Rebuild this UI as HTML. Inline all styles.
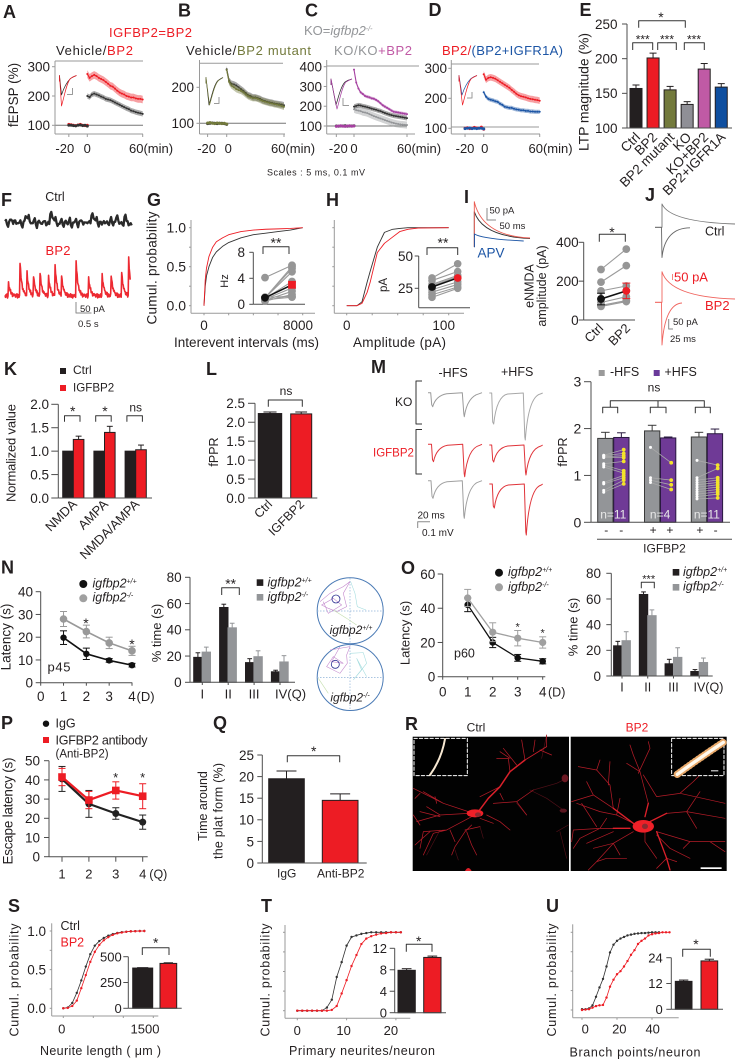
<!DOCTYPE html>
<html lang="en">
<head>
<meta charset="utf-8">
<title>IGFBP2 multi-panel figure</title>
<style>
html,body{margin:0;padding:0;background:#fff;}
svg{display:block;font-family:"Liberation Sans",Arial,sans-serif;filter:blur(.25px);}
text{fill:#231f20;}
.pl{font-size:18px;font-weight:bold;}
</style>
</head>
<body>
<svg id="fig" width="737" height="1061" viewBox="0 0 737 1061" xmlns="http://www.w3.org/2000/svg">
<rect x="0" y="0" width="737" height="1061" fill="#fff"/>

<g>
<text class="pl" x="3" y="18">A</text>
<text class="pl" x="178" y="16.5">B</text>
<text class="pl" x="305" y="16.5">C</text>
<text class="pl" x="428.5" y="16">D</text>
<text class="pl" x="579.5" y="16">E</text>
<text class="pl" x="1" y="206">F</text>
<text class="pl" x="147" y="206">G</text>
<text class="pl" x="326" y="206">H</text>
<text class="pl" x="464" y="203">I</text>
<text class="pl" x="645" y="201">J</text>
<text class="pl" x="4" y="375">K</text>
<text class="pl" x="206" y="375">L</text>
<text class="pl" x="371" y="373">M</text>
<text class="pl" x="1" y="573.5">N</text>
<text class="pl" x="401" y="574">O</text>
<text class="pl" x="1" y="729">P</text>
<text class="pl" x="213" y="729">Q</text>
<text class="pl" x="405" y="730">R</text>
<text class="pl" x="8" y="912">S</text>
<text class="pl" x="261" y="912">T</text>
<text class="pl" x="546" y="912">U</text>
</g>

<g>
<text x="109" y="37" font-size="13" textLength="83" style="fill:#ed1c24">IGFBP2=BP2</text>
<text x="56" y="55" font-size="13" textLength="77">Vehicle/<tspan style="fill:#ed1c24">BP2</tspan></text>
<text x="186" y="55" font-size="13" textLength="125">Vehicle/<tspan style="fill:#737a3c">BP2 mutant</tspan></text>
<text x="304" y="35" font-size="13" style="fill:#939598">KO=<tspan font-style="italic" style="fill:#939598">igfbp2</tspan><tspan dy="-4" font-size="7" font-style="italic" style="fill:#939598">-/-</tspan></text>
<text x="334" y="55" font-size="13" textLength="78" style="fill:#939598">KO/KO<tspan style="fill:#c05aa5">+BP2</tspan></text>
<text x="442" y="55" font-size="13" textLength="121" style="fill:#ed1c24">BP2/<tspan style="fill:#1c55a5">(BP2+IGFR1A)</tspan></text>
<text transform="translate(18,95) rotate(-90)" text-anchor="middle" font-size="13.5">fEPSP (%)</text>
<text x="267" y="175.5" font-size="9" textLength="98">Scales : 5 ms, 0.1 mV</text>
<text transform="translate(588.5,92) rotate(-90)" text-anchor="middle" font-size="14" textLength="118">LTP magnitude (%)</text>

<text x="55" y="201" text-anchor="middle" font-size="12.5">Ctrl</text>
<text x="58" y="255" text-anchor="middle" font-size="13" textLength="25" style="fill:#ed1c24">BP2</text>
<text x="80" y="312" font-size="9.5">50 pA</text>
<text x="78" y="327" font-size="9.5">0.5 s</text>

<text transform="translate(156.5,268) rotate(-90)" text-anchor="middle" font-size="13.5" textLength="113">Cumul. probability</text>
<text x="174" y="347" font-size="13.5" textLength="145">Interevent intervals (ms)</text>
<text transform="translate(228,281) rotate(-90)" text-anchor="middle" font-size="11">Hz</text>
<text x="353" y="347" font-size="13.5" textLength="93">Amplitude (pA)</text>
<text transform="translate(387,285) rotate(-90)" text-anchor="middle" font-size="11.5">pA</text>

<text x="489.5" y="213.5" font-size="9.5">50 pA</text>
<text x="499.5" y="229" font-size="9.5">50 ms</text>
<text x="477.5" y="257.5" font-size="13.5" style="fill:#1c55a5">APV</text>
<text transform="translate(533.7,286) rotate(-90)" text-anchor="middle" font-size="12.5">eNMDA</text>
<text transform="translate(546,286) rotate(-90)" text-anchor="middle" font-size="12.5">amplitude (pA)</text>
<text x="705" y="235.5" font-size="12.5">Ctrl</text>
<text x="674" y="281.5" font-size="13" style="fill:#ed1c24">50 pA</text>
<text x="705" y="310" font-size="13" style="fill:#ed1c24">BP2</text>
<text x="673" y="325" font-size="9.5">50 pA</text>
<text x="670" y="342" font-size="9.5">25 ms</text>

<text x="73" y="374" font-size="12">Ctrl</text>
<text x="73" y="391.5" font-size="11.6">IGFBP2</text>
<text transform="translate(15.5,453) rotate(-90)" text-anchor="middle" font-size="13" textLength="98">Normalized value</text>
<text transform="translate(218,452) rotate(-90)" text-anchor="middle" font-size="12.5">fPPR</text>

<text x="438.5" y="377" font-size="12.5">-HFS</text>
<text x="501" y="376" font-size="12.5">+HFS</text>
<text x="395" y="406" font-size="12">KO</text>
<text x="373" y="456.5" font-size="11.5" style="fill:#ed1c24">IGFBP2</text>
<text x="417.5" y="518.5" font-size="10">20 ms</text>
<text x="422" y="536" font-size="10">0.1 mV</text>
<text x="610" y="376" font-size="12.5">-HFS</text>
<text x="664.5" y="376" font-size="12.5">+HFS</text>
<text transform="translate(567,452) rotate(-90)" text-anchor="middle" font-size="12.5">fPPR</text>
<text x="654" y="391.5" text-anchor="middle" font-size="12">ns</text>
<text x="664.5" y="552.5" text-anchor="middle" font-size="12">IGFBP2</text>

<text transform="translate(10.5,637) rotate(-90)" text-anchor="middle" font-size="13.5">Latency (s)</text>
<text x="47.5" y="671.5" font-size="13" textLength="23">p45</text>
<text x="92.5" y="587.5" font-size="12.5" font-style="italic">igfbp2<tspan dy="-4" font-size="7">+/+</tspan></text>
<text x="92.5" y="601.5" font-size="12.5" font-style="italic">igfbp2<tspan dy="-4" font-size="7">-/-</tspan></text>
<text transform="translate(161,633) rotate(-90)" text-anchor="middle" font-size="13">% time (s)</text>
<text x="267.5" y="586.5" font-size="12.5" font-style="italic">igfbp2<tspan dy="-4" font-size="7">+/+</tspan></text>
<text x="267.5" y="601" font-size="12.5" font-style="italic">igfbp2<tspan dy="-4" font-size="7">-/-</tspan></text>

<text transform="translate(409.5,633) rotate(-90)" text-anchor="middle" font-size="13">Latency (s)</text>
<text x="454" y="657.5" font-size="12.5">p60</text>
<text x="508" y="576" font-size="12.5" font-style="italic">igfbp2<tspan dy="-4" font-size="7">+/+</tspan></text>
<text x="508" y="591" font-size="12.5" font-style="italic">igfbp2<tspan dy="-4" font-size="7">-/-</tspan></text>
<text transform="translate(577.5,627) rotate(-90)" text-anchor="middle" font-size="13">% time (s)</text>
<text x="683" y="576" font-size="12.5" font-style="italic">igfbp2<tspan dy="-4" font-size="7">+/+</tspan></text>
<text x="683" y="590.5" font-size="12.5" font-style="italic">igfbp2<tspan dy="-4" font-size="7">-/-</tspan></text>

<text x="55.5" y="727.5" font-size="12.5">IgG</text>
<text x="55.5" y="744.5" font-size="12.5" textLength="92">IGFBP2 antibody</text>
<text x="55.5" y="757.5" font-size="11.5">(Anti-BP2)</text>
<text transform="translate(12.5,811) rotate(-90)" text-anchor="middle" font-size="13.5" textLength="107">Escape latency (s)</text>
<text transform="translate(207,806) rotate(-90)" text-anchor="middle" font-size="12.5">Time around</text>
<text transform="translate(222.5,811) rotate(-90)" text-anchor="middle" font-size="12.5" textLength="96">the plat form (%)</text>

<text x="476" y="731.5" text-anchor="middle" font-size="12">Ctrl</text>
<text x="637" y="731.5" text-anchor="middle" font-size="12" style="fill:#ed1c24">BP2</text>

<text transform="translate(18.5,980) rotate(-90)" text-anchor="middle" font-size="12.5" textLength="113">Cumul. probability</text>
<text x="40" y="1055" font-size="12.5" textLength="121">Neurite length ( μm )</text>
<text x="60.5" y="930" font-size="12.5">Ctrl</text>
<text x="60.5" y="946.5" font-size="12.5" style="fill:#ed1c24">BP2</text>
<text transform="translate(269.5,980) rotate(-90)" text-anchor="middle" font-size="12.5" textLength="113">Cumul. probability</text>
<text x="289" y="1055" font-size="12.5" textLength="146">Primary neurites/neuron</text>
<text transform="translate(556,980) rotate(-90)" text-anchor="middle" font-size="12.5" textLength="113">Cumul. probability</text>
<text x="569.5" y="1056.5" font-size="12.5" textLength="131">Branch points/neuron</text>
</g>

<g>
<circle cx="350.2" cy="610.8" r="33" fill="#fff" stroke="#4a7ab5" stroke-width="1"/>
<circle cx="350.2" cy="677.5" r="33" fill="#fff" stroke="#4a7ab5" stroke-width="1"/>
<path d="M317 611H383M350 578V644M317 677.5H383M350 644.5V710.5" stroke="#8fb2d8" stroke-width=".7" stroke-dasharray="1.5 1.5" fill="none"/>
<g transform="translate(0,530) scale(.3333)" fill="none" stroke-width="1.7">
<path d="M960 215L990 190 1030 170 1050 155 1030 190 1040 230 1010 245 985 235 965 225 1000 205 1025 225 985 250 970 215" stroke="#c184cc"/>
<path d="M1052 155L1065 190 1072 230 1098 240" stroke="#a3dcde"/>
<path d="M1000 240L1040 265 1070 285" stroke="#c2ddab"/>
<circle cx="1008" cy="207" r="12" stroke="#2e3192" stroke-width="2.5"/>
<path d="M990 360L1050 350 1040 375 1042 400 1020 430 980 410 1000 380 1030 400 995 395 1020 350" stroke="#c184cc"/>
<path d="M1050 370L1090 368 1100 400 1060 450 1085 420 1070 385 1100 440" stroke="#a3dcde"/>
<path d="M955 445L985 490" stroke="#c2ddab"/>
<circle cx="1006" cy="403" r="12" stroke="#2e3192" stroke-width="2.5"/>
</g>
<text x="351" y="634" text-anchor="middle" font-size="12" font-style="italic">igfbp2<tspan dy="-4" font-size="7">+/+</tspan></text>
<text x="350" y="701.5" text-anchor="middle" font-size="12" font-style="italic">igfbp2<tspan dy="-4" font-size="7">-/-</tspan></text>
</g>

<g>
<rect x="412.7" y="736.7" width="156.3" height="134.3" fill="#020202"/>
<rect x="570.7" y="736.7" width="156" height="134.3" fill="#020202"/>
<g transform="translate(400,715) scale(.3333)" fill="none" stroke-linecap="round" stroke-linejoin="round">
<path d="M390 225L440 250 490 285M500 190L470 205 400 225M505 330L470 350M175 435L165 405M500 430L480 350M240 335L250 370M120 345L80 420M380 300L350 265M440 60L425 130" stroke="#6b1620" stroke-width="2" opacity=".75"/>
<path d="M330 170L325 130 290 130M350 150L310 100M375 135L365 75M440 95L440 60M300 215L240 245M280 265L350 260 400 225M350 260L380 300M205 290L130 265 40 220M130 265L70 230M205 295L120 300 50 320M120 300L80 275M215 305L140 345 70 350 60 400M140 345L100 355 70 420M215 330L195 350 165 395 155 420M240 310L280 325M195 345L240 335M60 330L40 300M90 350L45 390M150 345L165 380M200 350L215 390 230 420M330 130L300 110M400 110L405 75M420 105L455 120M310 255L300 235M260 300L300 320 330 345M110 265L105 245M60 235L45 250M120 305L60 290" stroke="#b41c28" stroke-width="2.2"/>
<path d="M235 290L265 250 300 215 330 170 375 135" stroke="#d8202a" stroke-width="4.5"/>
<path d="M375 135L440 95" stroke="#c41e2a" stroke-width="2.8"/>
<ellipse cx="225" cy="295" rx="25" ry="12" fill="#ee2028"/>
<ellipse cx="234" cy="299" rx="9" ry="7" fill="#8c2a30"/>
<path d="M195 468Q205 450 215 468Z" fill="#e2202a"/>
<ellipse cx="495" cy="190" rx="10" ry="12" fill="#6b1822"/>
<ellipse cx="490" cy="287" rx="11" ry="6" fill="#5a1620"/>
<path d="M745 265L720 170 700 120M715 175L750 100M770 245L840 235 975 265M770 245L730 180M640 280L580 240 515 260M640 280L630 210 590 165 535 155M625 210L630 140M580 240L560 200M690 340L600 340 520 345M600 340L540 370M640 350L560 385M700 350L640 385 590 440 565 465M640 385L580 400M800 295L860 290 975 310M860 290L900 230M770 350L870 380 975 380M735 350L735 380 770 430M770 360L810 400 870 430M545 265L590 335M700 325L650 300 600 290 530 265M800 430L830 440M590 165L600 135M650 300L660 250M700 120L690 90M720 170L680 145M750 100L745 80M840 235L880 200 900 180M860 290L890 340M870 380L850 400M930 380L975 410M800 430L770 460M640 385L660 420M590 440L620 430 680 430M540 370L520 400M520 345L515 380M600 340L620 310" stroke="#b41c28" stroke-width="2.2"/>
<path d="M735 305L745 265M750 320L800 295M770 350L800 430 810 465M700 325L640 280M690 340L640 340" stroke="#dc202a" stroke-width="4"/>
<ellipse cx="730" cy="334" rx="32" ry="19" fill="#ee2028"/>
<ellipse cx="735" cy="334" rx="9" ry="8" fill="#8c2a30"/>
<rect x="42" y="70" width="160" height="112" fill="#000" stroke="#fff" stroke-width="3" stroke-dasharray="10 6"/>
<path d="M135 72C128 112 115 145 90 180" stroke="#f7e8d2" stroke-width="6"/>
<rect x="815" y="70" width="157" height="112" fill="#000" stroke="#fff" stroke-width="3" stroke-dasharray="10 6"/>
<path d="M832 178C870 150 920 115 970 82" stroke="#e9a96a" stroke-width="22" stroke-dasharray="2 9"/>
<path d="M832 178C870 150 920 115 970 82" stroke="#fff9ee" stroke-width="10"/>
<rect x="933" y="166" width="22" height="3" fill="#fff"/>
<rect x="902" y="457" width="63" height="5" fill="#fff"/>
</g>
</g>

<g id="charts"></g>
</svg>

<script>
// ---------- panel data ----------
const ltpMinutes = [0,2.5,5,7.5,10,12.5,15,17.5,20,22.5,25,27.5,30,32.5,35,37.5,40,42.5,45,47.5,50,52.5,55,57.5,60];
const baseMinutes = [-20,-17.5,-15,-12.5,-10,-7.5,-5,-2.5,0];
const aRed = [275,262,268,272,268,262,258,254,248,242,235,232,225,218,212,208,205,200,198,195,195,192,190,190,188];
const aBlack = [200,196,205,208,205,202,198,195,190,188,186,182,178,174,170,166,162,158,155,150,148,145,143,141,139];
const aBaseRed = [103,102,100,99,101,103,100,99,100];
const aBaseBlack = [100,100,99,98,100,101,99,100,97];
const bOlive = [248,215,205,200,195,192,190,186,180,175,172,170,170,168,165,162,160,158,156,155,153,152,150,148,146];
const bBlack = [250,218,210,208,205,200,195,190,184,178,176,172,172,170,168,164,162,160,158,157,155,154,153,152,150];
const bBaseOlive = [101,102,100,99,101,100,99,100,98];
const bBaseBlack = [99,100,101,100,99,100,100,99,97];
const cPurple = [385,320,290,270,262,252,248,245,240,238,232,225,215,205,198,192,185,178,172,170,168,166,164,162,160];
const cBlack = [198,202,205,204,200,198,195,192,188,185,182,178,175,170,166,162,158,155,152,150,148,146,144,142,140];
const cGray = [185,180,178,175,170,168,165,160,155,150,146,142,138,134,130,126,122,118,115,112,110,108,107,106,105];
const cBasePurple = [98,100,101,99,98,100,101,99,100];
const cBaseBlack = [100,99,100,100,101,99,100,100,101];
const dRed = [280,262,268,270,268,265,260,255,250,245,240,235,228,222,215,210,207,205,203,200,198,197,195,194,192];
const dBlue = [220,205,198,195,193,190,188,182,178,172,170,168,168,165,163,162,160,160,158,158,156,156,155,155,155];
const dBaseRed = [100,102,99,100,103,101,100,104,97];
const dBaseBlue = [99,100,101,99,100,99,100,100,98];

const eNames = ['Ctrl','BP2','BP2 mutant','KO','KO+BP2','BP2+IGFR1A'];
const eValues = [157,201,155,134,185,159];
const eErrors = [5,7,5,4,8,5];

const fBlackNoise = [2,-3,1,4,-2,3,-1,0,-4,1,9,6,2,-1,3,-3,1,0,-2,2,-4,1,12,7,3,0,-2,2,-3,1,-1,2,-4,0,2,-2,1,3,-3,0,-1,2,10,6,3,-1,1,-3,2,0,-2,3,-1,1,7,3,-1,-3,8,2,-4,-1];
const fSpikeTimes = [0.11,0.48,0.69,0.9,1.11,1.38,1.6,1.8,2.27,2.66,3.09,3.39,3.72,3.95];
const fSpikeAmps = [59,147,125,103,118,103,133,96,155,96,118,96,118,170];
const fRedNoise = [1,-2,2,-1,3,-3,0,2,-2,1,-1,3,-2,0,2,-3,1,-1,2,0];

const gMs = [0,100,200,400,700,1000,1500,2000,3000,4000,5000,6000,7000,8000];
const gCtrl = [0,.25,.38,.5,.62,.69,.76,.81,.87,.91,.93,.95,.97,1];
const gBp2 = [0,.33,.48,.63,.75,.82,.87,.91,.95,.97,.98,.985,.99,1];
const gPairCtrl = [4.1,1,1,1,.9,.8,.6,.5,1.1,.7];
const gPairBp2 = [6,5.8,5.5,5,3.5,2.5,2,1.5,1.2,1.1];
const gMeans = [1,3];

const hPa = [0,10,15,20,23,30,37,45,52,60,70,100];
const hCtrl = [0,0,.05,.3,.44,.75,.94,.98,.99,1,1,1];
const hBp2 = [0,0,.03,.17,.3,.68,.8,.88,.95,.98,.995,1];
const hPairCtrl = [33,31,28,27,26,24,22,20,18];
const hPairBp2 = [44,38,35,34,33,30,28,26,25];
const hMeans = [26,33];

const iPairCtrl = [260,195,150,110,90,75,70];
const iPairBp2 = [365,280,175,150,120,100,95];
const iMeans = [108,150];
const iMeanErrors = [30,40];
const iNames = ['Ctrl','BP2'];

const kNames = ['NMDA','AMPA','NMDA/AMPA'];
const kCtrl = [1,1,1];
const kBp2 = [1.25,1.4,1.03];
const kBp2Errors = [.07,.13,.1];
const lNames = ['Ctrl','IGFBP2'];
const lValues = [2.23,2.22];
const lErrors = [.04,.05];

const mMinus = [1.79,1.95,1.82];
const mPlus = [1.81,1.80,1.89];
const mMinusErrors = [.13,.12,.1];
const mPlusErrors = [.1,.02,.1];
const mGroupN = ['n=11','n=4','n=11'];
const mSigns = ['-','-','+','+','+','-'];
const mGray1 = [1.43,1.42,1.4,1.38,1.25,1.22,1.18,.85,.82,.68,.64];
const mPurple1 = [1.55,1.47,1.42,1.38,1.3,1.1,1.05,1.0,.95,.9,.82];
const mGray2 = [1.6,.95,.9,.85];
const mPurple2 = [1.27,.9,.8,.7];
const mGray3 = [1.32,.95,.9,.85,.8,.75,.7,.65,.6,.55,.5];
const mPurple3 = [1.22,1.15,.95,.9,.85,.8,.75,.7,.65,.6,.52];

const days = [1,2,3,4];
const quadrants = ['I','II','III','IV'];
const nWt = [19.8,12.7,9.8,7.7];
const nWtErr = [3,2.5,.8,.8];
const nKo = [28,22.5,17.5,14];
const nKoErr = [3.3,2.8,2.5,2];
const nBarWt = [19,57,15,8];
const nBarWtErr = [3.5,2.5,3,1.2];
const nBarKo = [23,41.5,19.5,15.5];
const nBarKoErr = [3.8,3.5,4.5,4.8];
const oWt = [42,20,11,9];
const oWtErr = [4,3,2,1.5];
const oKo = [46,26,22.5,20];
const oKoErr = [5,5.5,4.5,3.3];
const oBarWt = [23.5,63.5,9.5,3.5];
const oBarWtErr = [3.5,2,3.5,1.5];
const oBarKo = [27.5,47,14.5,10.5];
const oBarKoErr = [7,4.5,7.5,3.5];
const pIgg = [40.5,27.5,22.5,18];
const pIggErr = [6.5,7,3,3.7];
const pAnti = [41.5,29.5,34.5,31.5];
const pAntiErr = [4.5,4.5,4.5,6.5];
const qNames = ['IgG','Anti-BP2'];
const qValues = [19.5,14.5];
const qErrors = [1.8,1.5];

const sLength = [0,75,150,225,300,375,450,525,600,675,750,825,900,975,1050,1125,1200,1275,1350];
const sCtrl = [0,.01,.07,.2,.36,.54,.7,.81,.87,.91,.94,.96,.975,.985,.99,.995,.998,1,1];
const sBp2 = [0,.005,.03,.1,.26,.43,.6,.73,.82,.88,.92,.95,.97,.98,.99,.995,.997,.999,1];
const sInset = [390,435];
const sInsetErr = [4,6];
const tCount = [0,1,2,3,4,5,6,7,8,9,10,11,12,13,14,15,16,17,18,19,20,21];
const tCtrl = [0,0,0,0,0,0,.04,.14,.43,.62,.83,.94,.96,.98,.99,1,1,1,1,1,1,1];
const tBp2 = [0,0,0,0,0,0,0,.01,.06,.22,.39,.57,.71,.85,.92,.95,.97,.985,.99,1,1,1];
const tInset = [7.9,10.3];
const tInsetErr = [.3,.25];
const uCount = [0,2,4,6,8,10,12,14,16,18,20,22,24,26,28,30,32,34,36,38,40,42,44,46,48,50];
const uCtrl = [.01,.01,.02,.06,.17,.29,.4,.56,.74,.84,.89,.92,.94,.96,.97,.98,.985,.99,.99,.995,1,1,1];
const uBp2 = [0,.005,.01,.03,.05,.06,.065,.16,.3,.39,.46,.5,.56,.63,.71,.77,.85,.89,.92,.96,.975,.985,.99,1,1,1];
const uInset = [13,22.5];
const uInsetErr = [.6,.8];

// ---------- drawing helpers ----------
const C = {k:'#231f20',r:'#ed1c24',g:'#939598',o:'#737a3c',p:'#c05aa5',b:'#1c55a5',ax:'#4d4d4d',lg:'#9a9a9a'};
const NS = 'http://www.w3.org/2000/svg';
const root = document.getElementById('charts');
function mk(tag, attrs, parent){
  const el = document.createElementNS(NS, tag);
  for (const k in attrs) el.setAttribute(k, attrs[k]);
  parent.appendChild(el);
  return el;
}
function scale(d0,d1,r0,r1){ return v => r0 + (v-d0)*(r1-r0)/(d1-d0); }
function panel(name){
  const el = mk('g',{},root);
  
  
  return el;
}
function ln(g,x1,y1,x2,y2,col,w,name){
  const el = mk('line',{x1:x1,y1:y1,x2:x2,y2:y2,stroke:col,'stroke-width':w},g);
  
  
  return el;
}
function tx(g,x,y,str,size,col,anchor,rot,name){
  const a = {'font-size':size,'text-anchor':anchor||'start'};
  if (rot) a.transform = 'translate('+x+','+y+') rotate('+rot+')';
  else { a.x = x; a.y = y; }
  const el = mk('text',a,g);
  el.style.fill = col;
  el.textContent = str;
  
  
  return el;
}
function pathEl(g,d,col,w,name,fill,op){
  const el = mk('path',{d:d,stroke:col,'stroke-width':w,fill:fill||'none','stroke-linejoin':'round'},g);
  if (op) el.setAttribute('opacity', op);
  
  
  return el;
}
function axisY(g,x,y0,y1,yS,ticks,labels,size,labX,col,tl,prefix){
  ln(g,x,y0,x,y1,col,1,prefix+'-y-axis');
  ticks.forEach((t,i)=>{
    ln(g,x-tl,yS(t),x,yS(t),col,1,prefix+'-y-tick');
    if (labels[i]!=='') tx(g,labX,yS(t)+size*.36,labels[i],size,C.k,'end',0,prefix+'-y-tick-label');
  });
}
function axisX(g,y,x0,x1,xS,ticks,labels,size,labY,col,tl,prefix,off){
  ln(g,x0,y,x1,y,col,1,prefix+'-x-axis');
  ticks.forEach((t,i)=>{
    ln(g,xS(t),y,xS(t),y+tl,col,1,prefix+'-x-tick');
    if (labels[i]!=='') tx(g,xS(t)+(off?off[i]:0),labY,labels[i],size,C.k,'middle',0,prefix+'-x-tick-label');
  });
}
function bracket(g,x1,x2,y,drop,name){
  pathEl(g,'M'+x1+' '+(y+drop)+'V'+y+'H'+x2+'V'+(y+drop),'#333',1,name);
}
function star(g,x,yc,str,size,name){
  const s = size||14;
  tx(g,x,yc+s*.42,str,s,C.k,'middle',0,name);
}
function bar(g,x,w,v,err,yS,fill,name,edge){
  const y0 = yS(0), yv = yS(v);
  const el = mk('rect',{x:x,y:yv,width:w,height:y0-yv,fill:fill,stroke:edge||C.k,'stroke-width':1},g);
  
  
  if (err>0){
    const ye = yS(v+err), cx = x+w/2;
    ln(g,cx,yv,cx,ye,edge||C.k,1,name+'-error');
    ln(g,cx-w*.28,ye,cx+w*.28,ye,edge||C.k,1,name+'-error-cap');
  }
}
function pathFrom(xs,ys,xS,yS){
  return xs.map((x,i)=> (i?'L':'M')+xS(x).toFixed(2)+' '+yS(ys[i]).toFixed(2)).join('');
}
function ltpSeries(g,xs,ys,err,xS,yS,col,name,mr){
  const up = ys.map(v=>v+err), dn = ys.map(v=>v-err).reverse(), xr = xs.slice().reverse();
  const d = pathFrom(xs,up,xS,yS)+pathFrom(xr,dn,xS,yS).replace('M','L')+'Z';
  pathEl(g,d,'none',0,name+'-band',col,.42);
  pathEl(g,pathFrom(xs,ys,xS,yS),col,1.1,name+'-line');
  xs.forEach((x,i)=>{
    const el = mk('circle',{cx:xS(x),cy:yS(ys[i]),r:mr||1,fill:col},g);
    
    
  });
}
function fepsp(g,x0,x1,xd,yt,yd,col,name){
  pathEl(g,'M'+x0+' '+(yt+5)+'L'+x0+' '+(yt-1)+'L'+xd+' '+yd+'C'+(xd+2.5)+' '+(yd-8)+' '+(xd+5)+' '+(yt+6)+' '+(xd+9)+' '+(yt+2)+'Q'+(xd+12)+' '+yt+' '+x1+' '+(yt-1),col,.7,name);
}
function curve(g,xs,ys,xS,yS,col,w,markerR,name){
  const n = Math.min(xs.length,ys.length), xx = xs.slice(0,n), yy = ys.slice(0,n);
  pathEl(g,pathFrom(xx,yy,xS,yS),col,w,name);
  if (markerR) xx.forEach((x,i)=>{
    const el = mk('circle',{cx:xS(x),cy:yS(yy[i]),r:markerR,fill:col},g);
    
    
  });
}
function paired(g,a,b,x0,x1,yS,r,name){
  a.forEach((v,i)=>{
    ln(g,x0,yS(v),x1,yS(b[i]),'#9a9a9a',1.1,name+'-pair-line');
    const c1 = mk('circle',{cx:x0,cy:yS(v),r:r,fill:'#969696'},g);
    
    
    const c2 = mk('circle',{cx:x1,cy:yS(b[i]),r:r,fill:'#969696'},g);
    
    
  });
}
function meanPair(g,m,x0,x1,yS,r,square,name){
  ln(g,x0,yS(m[0]),x1,yS(m[1]),'#111',1.5,name+'-mean-line');
  const c = mk('circle',{cx:x0,cy:yS(m[0]),r:r,fill:'#111'},g);
  
  
  const s = square ? mk('rect',{x:x1-r,y:yS(m[1])-r,width:2*r,height:2*r,fill:C.r},g)
                   : mk('circle',{cx:x1,cy:yS(m[1]),r:r,fill:C.r},g);
  
  
}
function errSeries(g,xs,ys,errs,xS,yS,col,w,marker,mr,name){
  xs.forEach((x,i)=>{
    const px = xS(x), hi = yS(ys[i]+errs[i]), lo = yS(ys[i]-errs[i]);
    ln(g,px,hi,px,lo,col,1,name+'-error');
    ln(g,px-3.5,hi,px+3.5,hi,col,1,name+'-error-cap');
    ln(g,px-3.5,lo,px+3.5,lo,col,1,name+'-error-cap');
  });
  pathEl(g,pathFrom(xs,ys,xS,yS),col,w,name+'-line');
  xs.forEach((x,i)=>{
    const el = marker==='square'
      ? mk('rect',{x:xS(x)-mr,y:yS(ys[i])-mr,width:2*mr,height:2*mr,fill:col},g)
      : mk('circle',{cx:xS(x),cy:yS(ys[i]),r:mr,fill:col},g);
    
    
  });
}
function sq(g,x,y,s,col,name){
  const el = mk('rect',{x:x,y:y,width:s,height:s,fill:col},g);
  
  
}
function dot(g,x,y,r,col,name){
  const el = mk('circle',{cx:x,cy:y,r:r,fill:col},g);
  
  
}
function pulse(g,x0,x1,yb,xa,ya,xb,yB,col,name){
  const d = 'M'+x0+' '+yb+'L'+(xa-2)+' '+yb+'L'+(xa-1)+' '+(ya-2)+'L'+xa+' '+ya+'Q'+(xa+3)+' '+(yb+3)+' '+(xa+14)+' '+(yb+1)+'L'+(xb-2)+' '+yb+'L'+(xb-.5)+' '+(yB-3)+'L'+xb+' '+yB+'Q'+(xb+3)+' '+(yb+4)+' '+(xb+15)+' '+(yb+1)+'L'+x1+' '+yb;
  pathEl(g,d,col,1,name);
}
function synaptic(g,x0,x1,yb,xp,yp,yEnd,col,name,xStart){
  const d = 'M'+xStart+' '+yb+'L'+xp+' '+yb+'L'+xp+' '+yp+'Q'+(xp+8)+' '+(yEnd-2)+' '+x1+' '+yEnd;
  pathEl(g,d,col,.9,name);
}

// ---------- A ----------
(function(){
  const g = panel('panel-a-ltp-vehicle-bp2');
  const x = scale(0,60,87.3,142.7), y = scale(100,300,125.3,66.7);
  ln(g,55,61,143,61,C.lg,1,'a-top-line');
  ln(g,55,y(100),143,y(100),'#777',1,'a-baseline-100');
  axisY(g,55,61,134,y,[100,200,300],['100','200','300'],13.5,50,C.lg,3,'a');
  axisX(g,134,55,143,x,[-20,0,60],['-20','0',''],13,153,C.lg,3,'a',[-4,0,0]);
  tx(g,129,153,'60(min)',13,C.k,'start',0,'a-x-end-label');
  ltpSeries(g,ltpMinutes,aBlack,9,x,y,'#333','a-vehicle');
  ltpSeries(g,ltpMinutes,aRed,13,x,y,C.r,'a-bp2');
  ltpSeries(g,baseMinutes,aBaseRed,4,x,y,C.r,'a-base-bp2',1.5);
  ltpSeries(g,baseMinutes,aBaseBlack,4,x,y,'#333','a-base-vehicle',1.5);
  fepsp(g,59.5,76.5,61.5,76.5,95,'#222','a-inset-vehicle-trace');
  fepsp(g,59.5,76.5,61.5,76.5,106,C.r,'a-inset-bp2-trace');
  pathEl(g,'M72.5 88V94.5H67',C.lg,1,'a-inset-scale');
})();
// ---------- B ----------
(function(){
  const g = panel('panel-b-ltp-vehicle-mutant');
  const x = scale(0,60,226.7,284), y = scale(100,200,123.3,87.3);
  ln(g,199.5,63.3,283,63.3,C.lg,1,'b-top-line');
  ln(g,199.5,y(100),286,y(100),'#777',1,'b-baseline-100');
  axisY(g,199.5,60,134,y,[100,200],['100','200'],13.5,194,C.lg,3,'b');
  axisX(g,134,199.5,285,x,[-20,0,60],['-20','0',''],13,153,C.lg,3,'b',[-1,1.5,0]);
  tx(g,271,153,'60(min)',13,C.k,'start',0,'b-x-end-label');
  ltpSeries(g,ltpMinutes,bBlack,9,x,y,'#333','b-vehicle');
  ltpSeries(g,ltpMinutes,bOlive,9,x,y,C.o,'b-mutant');
  ltpSeries(g,baseMinutes,bBaseBlack,4,x,y,'#333','b-base-vehicle',1.5);
  ltpSeries(g,baseMinutes,bBaseOlive,4,x,y,C.o,'b-base-mutant',1.5);
  fepsp(g,206,223,209,78.5,105,'#222','b-inset-vehicle-trace');
  fepsp(g,206,223,209.5,78.5,105,C.o,'b-inset-mutant-trace');
  pathEl(g,'M219 97V103.5H214',C.lg,1,'b-inset-scale');
})();
// ---------- C ----------
(function(){
  const g = panel('panel-c-ltp-ko');
  const x = scale(0,60,354,407), y = scale(100,400,126,66.7);
  ln(g,326.7,66,419,66,C.lg,1,'c-top-line');
  ln(g,326.7,y(100),407,y(100),'#777',1,'c-baseline-100');
  axisY(g,326.7,60,134,y,[100,200,300,400],['100','200','300','400'],13.5,322,C.lg,3,'c');
  axisX(g,134,326.7,415,x,[-20,0,60],['-20','0',''],13,153,C.lg,3,'c',[2,0,0]);
  tx(g,397,153,'60(min)',13,C.k,'start',0,'c-x-end-label');
  ltpSeries(g,ltpMinutes,cGray,18,x,y,C.g,'c-ko');
  ltpSeries(g,ltpMinutes,cBlack,12,x,y,'#333','c-ko-vehicle');
  ltpSeries(g,ltpMinutes,cPurple,8,x,y,'#a540a0','c-ko-bp2');
  ltpSeries(g,baseMinutes,cBaseBlack,6,x,y,'#333','c-base-ko',1.5);
  ltpSeries(g,baseMinutes,cBasePurple,6,x,y,'#a540a0','c-base-ko-bp2',1.5);
  fepsp(g,331,352,336,80,105,'#222','c-inset-ko-trace');
  fepsp(g,331,352,337,80,109,'#a540a0','c-inset-ko-bp2-trace');
  pathEl(g,'M343 98V105.5H349',C.lg,1,'c-inset-scale');
})();
// ---------- D ----------
(function(){
  const g = panel('panel-d-ltp-igfr1a');
  const x = scale(0,60,483.7,539.7), y = scale(100,300,128.3,68.3);
  ln(g,451.3,64,539,64,C.lg,1,'d-top-line');
  ln(g,451.3,127,539,127,C.lg,1,'d-baseline-100');
  axisY(g,451.3,60,134,y,[100,200,300],['100','200','300'],13.5,447,C.lg,3,'d');
  axisX(g,134,451.3,540,x,[-20,0,60],['-20','0',''],13,153,C.lg,3,'d',[0,1,0]);
  tx(g,528.5,153,'60(min)',13,C.k,'start',0,'d-x-end-label');
  ltpSeries(g,ltpMinutes,dRed,11,x,y,C.r,'d-bp2');
  ltpSeries(g,ltpMinutes,dBlue,7,x,y,C.b,'d-bp2-igfr1a');
  ltpSeries(g,baseMinutes,dBaseRed,4,x,y,C.r,'d-base-bp2',1.5);
  ltpSeries(g,baseMinutes,dBaseBlue,4,x,y,C.b,'d-base-bp2-igfr1a',1.5);
  fepsp(g,459,477,462,76.5,95,C.b,'d-inset-blue-trace');
  fepsp(g,459,477,462.5,76.5,105,C.r,'d-inset-red-trace');
  pathEl(g,'M472 92V98H467',C.lg,1,'d-inset-scale');
})();
// ---------- E ----------
(function(){
  const g = panel('panel-e-ltp-bars');
  const y = scale(100,250,128,24);
  const fills = [C.k,C.r,C.o,'#8f8f96',C.p,'#0f4fa0'];
  eValues.forEach((v,i)=>{
    const cx = 636 + i*17.05, x0 = cx-6;
    const yv = y(v);
    const el = mk('rect',{x:x0,y:yv,width:12,height:128-yv,fill:fills[i],stroke:C.k,'stroke-width':1},g);
    
    
    const ye = y(v+eErrors[i]);
    ln(g,cx,yv,cx,ye,C.k,1,'e-error');
    ln(g,cx-3.5,ye,cx+3.5,ye,C.k,1,'e-error-cap');
    tx(g,cx+5,138,eNames[i],13.5,C.k,'end',-45,'e-x-label');
  });
  axisY(g,627,24,128,y,[100,150,200,250],['100','150','200','250'],13.5,617.5,C.ax,5,'e');
  ln(g,627,128,732,128,C.ax,1,'e-x-axis');
  bracket(g,638.7,685.3,20.7,7,'e-bracket-top');
  star(g,661,16,'*',14,'e-star-top');
  bracket(g,632.7,652.7,42.7,7.3,'e-bracket-1');
  bracket(g,657.7,676.3,42.7,7.3,'e-bracket-2');
  bracket(g,684.3,704.3,42.7,7.3,'e-bracket-3');
  star(g,642.7,38.5,'***',12,'e-stars-1');
  star(g,667,38.5,'***',12,'e-stars-2');
  star(g,694,38.5,'***',12,'e-stars-3');
})();
// ---------- F ----------
(function(){
  const g = panel('panel-f-traces');
  const x = i => 5 + i*(125.7/(fBlackNoise.length-1));
  let d = '';
  fBlackNoise.forEach((v,i)=>{
    d += (i?'L':'M')+x(i).toFixed(1)+' '+(222.5-v*.7).toFixed(1);
    d += 'L'+(x(i)+1).toFixed(1)+' '+(222.5-(v+fRedNoise[i%fRedNoise.length]*1.6)*.7).toFixed(1);
  });
  pathEl(g,d,'#2a2a2a',2.3,'f-ctrl-trace');
  const tx0 = 5, pxPerS = 31.3, yb = 296, pxPerPa = 11.3/50;
  let r = '';
  for (let k=0;k<=250;k++){
    const t = k/62.5;
    let v = 0;
    fSpikeTimes.forEach((s,j)=>{
      if (t>=s) v += fSpikeAmps[j]*Math.exp(-(t-s)/0.06);
    });
    v += fRedNoise[k%fRedNoise.length]*3;
    r += (k?'L':'M')+(tx0+t*pxPerS).toFixed(2)+' '+(yb-v*pxPerPa).toFixed(2);
  }
  pathEl(g,r,'#ed2a32',1.6,'f-bp2-trace');
  pathEl(g,'M76 302V313H91.5','#8a8a8a',1,'f-scale-bar');
})();
// ---------- G ----------
(function(){
  const g = panel('panel-g-cumulative');
  const x = scale(0,8000,204,302.7), y = scale(0,1,305.7,227.7);
  axisY(g,191,220,313.3,y,[0,.25,.5,.75,1],['0.0','','0.5','','1.0'],14,186,C.lg,2,'g');
  axisX(g,313.3,191,315,x,[0,2000,4000,6000,8000],['0','','','',''],13.5,330,C.lg,2,'g');
  tx(g,298,330,'8000',13.5,C.k,'middle',0,'g-x-tick-label-8000');
  curve(g,gMs,gCtrl,x,y,'#333',.9,0,'g-ctrl-curve');
  curve(g,gMs,gBp2,x,y,C.r,.9,0,'g-bp2-curve');
  const yi = scale(0,8,304.3,252.3);
  axisY(g,253.3,252.3,304.3,yi,[0,4,8],['0','4','8'],13.5,245,C.ax,4,'g-inset');
  ln(g,253.3,304.3,305,304.3,C.ax,1,'g-inset-x-axis');
  paired(g,gPairCtrl,gPairBp2,265,292,yi,3.9,'g-inset');
  meanPair(g,gMeans,265,292,yi,3.9,true,'g-inset');
  bracket(g,263,289,246.7,7.3,'g-inset-bracket');
  star(g,276,241.5,'**',14,'g-inset-stars');
})();
// ---------- H ----------
(function(){
  const g = panel('panel-h-cumulative');
  const x = scale(0,100,346.7,448.7), y = scale(0,1,305.7,227.7);
  axisY(g,334.3,220,313.3,y,[0,.25,.5,.75,1],['','','','',''],12,330,C.lg,2,'h');
  axisX(g,313.3,334.3,464,x,[0,25,50,75,100],['0','','','',''],13.5,330,C.lg,2,'h');
  tx(g,443.7,330,'100',13.5,C.k,'middle',0,'h-x-tick-label-100');
  curve(g,hPa,hCtrl,x,y,'#333',.9,0,'h-ctrl-curve');
  curve(g,hPa,hBp2,x,y,C.r,.9,0,'h-bp2-curve');
  const yi = scale(25,50,288.3,256);
  axisY(g,418.7,256,307.7,yi,[25,50],['25','50'],13.5,413,C.ax,4,'h-inset');
  ln(g,418.7,307.7,470,307.7,C.ax,1,'h-inset-x-axis');
  paired(g,hPairCtrl,hPairBp2,432,457.7,yi,3.8,'h-inset');
  meanPair(g,hMeans,432,457.7,yi,3.9,false,'h-inset');
  bracket(g,427,457.7,247.7,7.3,'h-inset-bracket');
  star(g,443,241.5,'**',14,'h-inset-stars');
})();
// ---------- I ----------
(function(){
  const g = panel('panel-i-nmda');
  synaptic(g,474,530,247,474.3,211.7,238.5,'#333','i-ctrl-trace',474.3);
  synaptic(g,474,530,247,474.3,201.7,238,'#ea5a50','i-bp2-trace',474.3);
  synaptic(g,474,523.7,247,474.5,234,241,'#1c55a5','i-apv-trace',474.3);
  pathEl(g,'M487 208V220H496','#8a8a8a',1,'i-scale-bar');
  const y = scale(0,400,320,242.3);
  axisY(g,583.7,242.3,320,y,[0,200,400],['0','200','400'],13.5,578.7,C.ax,5,'i');
  ln(g,583.7,320,635,320,C.ax,1,'i-x-axis');
  paired(g,iPairCtrl,iPairBp2,601,626.3,y,3.9,'i');
  const mx = [601,626.3];
  const ec = ['#111',C.r];
  iMeans.forEach((m,i)=>{
    ln(g,mx[i],y(m+iMeanErrors[i]),mx[i],y(m-iMeanErrors[i]),ec[i],1,'i-mean-error');
    ln(g,mx[i]-4,y(m+iMeanErrors[i]),mx[i]+4,y(m+iMeanErrors[i]),ec[i],1,'i-mean-error-cap');
    ln(g,mx[i]-4,y(m-iMeanErrors[i]),mx[i]+4,y(m-iMeanErrors[i]),ec[i],1,'i-mean-error-cap');
  });
  meanPair(g,iMeans,601,626.3,y,3.9,false,'i');
  bracket(g,599.3,625.3,234.3,7.4,'i-bracket');
  star(g,612,231,'*',14,'i-star');
  tx(g,604,329,iNames[0],13,C.k,'end',-45,'i-x-label');
  tx(g,631,329,iNames[1],13,C.k,'end',-45,'i-x-label');
})();
// ---------- J ----------
(function(){
  const g = panel('panel-j-traces');
  synaptic(g,655,735,227.3,662,204,224,'#777','j-ctrl-outward-trace',655);
  pathEl(g,'M655 227.3H661.5L662 257.5Q665 228 690 227.8','#666',.9,'j-ctrl-inward-trace');
  synaptic(g,655,735,302.3,662,271.7,299,'#f0655f','j-bp2-outward-trace',655);
  pathEl(g,'M655 302.3H661.5L662 345Q665 304 682 303','#f0655f',.9,'j-bp2-inward-trace');
  pathEl(g,'M668.7 319V329H673','#8a8a8a',1,'j-scale-bar');
  ln(g,672.5,274,672.5,280,'#f0655f',.8,'j-red-scale-tick');
})();
// ---------- K ----------
(function(){
  const g = panel('panel-k-normalized');
  const y = scale(0,2,498,404.3);
  sq(g,60,368,6,C.k,'k-legend-ctrl-swatch');
  sq(g,60,385,6,C.r,'k-legend-igfbp2-swatch');
  kNames.forEach((n,i)=>{
    const x0 = 62.7 + i*31.2;
    bar(g,x0,10.6,kCtrl[i],0,y,C.k,'k-ctrl-bar');
    bar(g,x0+10.6,10.6,kBp2[i],kBp2Errors[i],y,C.r,'k-bp2-bar');
    bracket(g,x0+1.8,x0+17.3,415.7,6,'k-bracket');
    tx(g,x0+15,505,n,13,C.k,'end',-45,'k-x-label');
  });
  axisY(g,58.3,404.3,498,y,[0,.5,1,1.5,2],['0.0','0.5','1.0','1.5','2.0'],13.5,49,C.ax,7,'k');
  ln(g,58.3,498,152,498,C.ax,1,'k-x-axis');
  star(g,72.7,410,'*',14,'k-star-nmda');
  star(g,105,410,'*',14,'k-star-ampa');
  tx(g,135.7,411.5,'ns',12,C.k,'middle',0,'k-ns');
})();
// ---------- L ----------
(function(){
  const g = panel('panel-l-fppr');
  const y = scale(0,2.5,498,403.3);
  bar(g,258.3,23.4,lValues[0],lErrors[0],y,C.k,'l-ctrl-bar');
  bar(g,290.7,21,lValues[1],lErrors[1],y,C.r,'l-igfbp2-bar');
  axisY(g,255,403.3,498,y,[0,.5,1,1.5,2,2.5],['0.0','0.5','1.0','1.5','2.0','2.5'],13.5,245,C.ax,7,'l');
  ln(g,255,498,317.3,498,C.ax,1,'l-x-axis');
  bracket(g,268.3,302.3,400,6.7,'l-bracket');
  tx(g,286,395,'ns',12,C.k,'middle',0,'l-ns');
  tx(g,273,505,lNames[0],12.5,C.k,'end',-45,'l-x-label');
  tx(g,305,505,lNames[1],12.5,C.k,'end',-45,'l-x-label');
})();
// ---------- M ----------
(function(){
  const g = panel('panel-m-pulse-traces');
  pathEl(g,'M422 381H416V424H422','#333',1,'m-ko-bracket');
  pathEl(g,'M422 429.5H416V474H422','#333',1,'m-igfbp2-bracket');
  pulse(g,428,482,392.7,432.7,406.7,464.3,416.7,'#9a9a9a','m-ko-minus-hfs-trace');
  pulse(g,489.3,542.7,393,493.7,424,525.3,440,'#a8a8a8','m-ko-plus-hfs-trace');
  pulse(g,428,482,444.3,433.5,461.7,464.7,476.7,'#e0343a','m-igfbp2-minus-hfs-trace');
  pulse(g,489.3,542.7,445,493.7,462,526,475,'#e0343a','m-igfbp2-plus-hfs-trace');
  pulse(g,428,482,480.7,433,498.3,464.3,518.3,'#a0a0a0','m-igfbp2-control-trace');
  pulse(g,489.3,542.7,484,494.3,508,526.3,535,'#e0343a','m-igfbp2-hfs-trace');
  pathEl(g,'M417.7 528V521.7H430','#8a8a8a',1,'m-scale-bar');

  const b = panel('panel-m-fppr-bars');
  const y = scale(0,3,522.3,381.7);
  const grayDots = [mGray1,mGray2,mGray3];
  const purpleDots = [mPurple1,mPurple2,mPurple3];
  const whiteXOff = [6,6,5.7];
  const yellowXOff = [26,26.7,26.4];
  sq(b,598.7,370,6,'#9a9a9a','m-legend-minus-swatch');
  sq(b,653.7,370,6,'#6a3a9a','m-legend-plus-swatch');
  mMinus.forEach((v,i)=>{
    const x0 = 597.7 + i*46.8;
    bar(b,x0,15.3,v,mMinusErrors[i],y,'#939598','m-minus-bar','#3a3a3a');
    bar(b,x0+16,15.3,mPlus[i],mPlusErrors[i],y,'#6f3a96','m-plus-bar','#2a1a40');
    grayDots[i].forEach((w,j)=>{
      const pv = purpleDots[i][j];
      ln(b,x0+whiteXOff[i],y(w),x0+yellowXOff[i],y(pv),'#a9a9a9',.8,'m-pair-line');
    });
    grayDots[i].forEach(w=>{ dot(b,x0+whiteXOff[i],y(w),1.5,'#fff','m-minus-point'); });
    purpleDots[i].forEach(w=>{ dot(b,x0+yellowXOff[i],y(w),1.9,'#f4e32a','m-plus-point'); });
    tx(b,x0+15.6,518.5,mGroupN[i],12,'#e8e8e8','middle',0,'m-n-label');
    tx(b,x0+8.6,534,mSigns[2*i],12,C.k,'middle',0,'m-sign');
    tx(b,x0+(i===0?23.6:i===1?25.4:24.3),534,mSigns[2*i+1],12,C.k,'middle',0,'m-sign');
  });
  axisY(b,591,381.7,522.3,y,[0,1,2,3],['0','1','2','3'],14,581.3,C.ax,7,'m');
  ln(b,591,522.3,730,522.3,C.ax,1,'m-x-axis');
  ln(b,597,539.3,732,539.3,C.ax,1,'m-igfbp2-rule');
  pathEl(b,'M610.3 407.3V400.7H704.3V407.3M658 400.7V407.3','#333',1,'m-ns-tree');
  bracket(b,602.7,617.7,407.3,6,'m-bracket-1');
  bracket(b,650.3,666,407.3,6,'m-bracket-2');
  bracket(b,695.3,710.3,407.3,6,'m-bracket-3');
})();
// ---------- N ----------
(function(){
  const g = panel('panel-n-latency');
  const x = scale(0,4,40.7,132), y = scale(0,40,682.7,591.7);
  axisY(g,40.7,591.7,682.7,y,[0,10,20,30,40],['0','10','20','30','40'],13.5,33,C.ax,5,'n');
  axisX(g,682.7,40.7,132.3,x,[0,1,2,3,4],['0','1','2','3','4'],13.5,701,C.ax,3,'n');
  tx(g,136.5,701,'(D)',13,C.k,'start',0,'n-x-unit');
  errSeries(g,days,nKo,nKoErr,x,y,'#999',1.6,'circle',3.8,'n-ko');
  errSeries(g,days,nWt,nWtErr,x,y,'#111',1.6,'circle',3.2,'n-wt');
  star(g,86,622,'*',14,'n-star-day2');
  star(g,132,643,'*',14,'n-star-day4');
  dot(g,83.3,584,4,'#111','n-legend-wt-marker');
  dot(g,83.3,598.3,4,'#a0a0a0','n-legend-ko-marker');

  const b = panel('panel-n-quadrant-bars');
  const yb = scale(0,80,682.3,577.3);
  const xb = scale(0,3,202.3,280);
  axisY(b,190,577.3,682.3,yb,[0,20,40,60,80],['0','20','40','60','80'],13.5,181.7,C.ax,5,'n-bars');
  nBarWt.forEach((v,i)=>{
    const cx = xb(i);
    bar(b,cx-8.6,8.4,v,nBarWtErr[i],yb,C.k,'n-wt-bar');
    bar(b,cx-.2,8.4,nBarKo[i],nBarKoErr[i],yb,'#939598','n-ko-bar','#939598');
    ln(b,cx,682.3,cx,685,C.ax,1,'n-bars-x-tick');
    if (i<3) tx(b,cx,698.5,quadrants[i],13,C.k,'middle',0,'n-bars-x-label');
  });
  tx(b,275,698.5,quadrants[3]+'(Q)',13,C.k,'start',0,'n-bars-x-label');
  ln(b,190,682.3,295,682.3,C.ax,1,'n-bars-x-axis');
  bracket(b,221.7,239.3,587.7,7.3,'n-bars-bracket');
  star(b,230.7,582.5,'**',14,'n-bars-stars');
  sq(b,256.7,579.3,6.6,C.k,'n-bars-legend-wt-swatch');
  sq(b,256.7,594,6.6,'#939598','n-bars-legend-ko-swatch');
})();
// ---------- O ----------
(function(){
  const g = panel('panel-o-latency');
  const x = scale(0,4,442.7,542.7), y = scale(0,60,676.7,574);
  axisY(g,442.7,574,676.7,y,[0,20,40,60],['0','20','40','60'],13.5,435.3,C.ax,5,'o');
  axisX(g,676.7,442.7,545.3,x,[0,1,2,3,4],['0','1','2','3','4'],13.5,696.5,C.ax,3,'o');
  tx(g,548,696.5,'(D)',12.5,C.k,'start',0,'o-x-unit');
  errSeries(g,days,oWt,oWtErr,x,y,'#111',1.3,'circle',3.3,'o-wt');
  errSeries(g,days,oKo,oKoErr,x,y,'#a0a0a0',1.3,'circle',3.6,'o-ko');
  star(g,517.7,626,'*',11,'o-star-day3');
  star(g,542.7,632,'*',11,'o-star-day4');
  dot(g,499,572.7,4,'#111','o-legend-wt-marker');
  dot(g,499,587.3,4,'#a0a0a0','o-legend-ko-marker');

  const b = panel('panel-o-quadrant-bars');
  const yb = scale(0,80,676,573.3);
  const xb = scale(0,3,622,699.2);
  axisY(b,611.3,573.3,676,yb,[0,20,40,60,80],['0','20','40','60','80'],13.5,601,C.ax,5,'o-bars');
  oBarWt.forEach((v,i)=>{
    const cx = xb(i);
    bar(b,cx-8.4,8.4,v,oBarWtErr[i],yb,C.k,'o-wt-bar');
    bar(b,cx,8.4,oBarKo[i],oBarKoErr[i],yb,'#939598','o-ko-bar','#939598');
    ln(b,cx,676,cx,678.5,C.ax,1,'o-bars-x-tick');
    if (i<3) tx(b,cx,691.5,quadrants[i],12.5,C.k,'middle',0,'o-bars-x-label');
  });
  tx(b,693.5,691.5,quadrants[3]+'(Q)',12.5,C.k,'start',0,'o-bars-x-label');
  ln(b,611.3,676,712.7,676,C.ax,1,'o-bars-x-axis');
  bracket(b,641.3,654.3,582.3,6,'o-bars-bracket');
  star(b,648.7,578,'***',11,'o-bars-stars');
  sq(b,672.7,569,6.6,C.k,'o-bars-legend-wt-swatch');
  sq(b,672.7,584,6.6,'#939598','o-bars-legend-ko-swatch');
})();
// ---------- P ----------
(function(){
  const g = panel('panel-p-escape-latency');
  const x = scale(1,4,62,142.7), y = scale(0,50,856.7,760.7);
  axisY(g,49,760.7,856.7,y,[0,10,20,30,40,50],['0','10','20','30','40','50'],13.5,40,C.ax,5,'p');
  axisX(g,856.7,49,147.7,x,days,['1','2','3','4'],13,878.3,C.ax,5,'p');
  tx(g,149.3,878.3,'(Q)',12.5,C.k,'start',0,'p-x-unit');
  errSeries(g,days,pIgg,pIggErr,x,y,'#222',2.2,'circle',3.5,'p-igg');
  errSeries(g,days,pAnti,pAntiErr,x,y,C.r,2.2,'square',3.8,'p-anti');
  star(g,115.7,776.5,'*',13,'p-star-3');
  star(g,142.7,776.5,'*',13,'p-star-4');
  dot(g,46,723.7,3.2,'#111','p-legend-igg-marker');
  sq(g,43,737,6,C.r,'p-legend-anti-marker');
})();
// ---------- Q ----------
(function(){
  const g = panel('panel-q-time-platform');
  const y = scale(0,25,863,755);
  bar(g,268.7,35.6,qValues[0],qErrors[0],y,C.k,'q-igg-bar');
  bar(g,322.3,35.7,qValues[1],qErrors[1],y,C.r,'q-anti-bar');
  axisY(g,262.3,755,863,y,[0,5,10,15,20,25],['0','5','10','15','20','25'],13.5,254,C.ax,5,'q');
  ln(g,262.3,863,366.7,863,C.ax,1,'q-x-axis');
  bracket(g,287.3,339.7,755.7,6.6,'q-bracket');
  star(g,313.7,750,'*',14,'q-star');
  tx(g,286.7,877.5,qNames[0],12,C.k,'middle',0,'q-x-label');
  tx(g,340.7,877.5,qNames[1],12,C.k,'middle',0,'q-x-label');
})();
// ---------- S ----------
(function(){
  const g = panel('panel-s-neurite-length');
  const x = scale(0,1500,63.3,153.3), y = scale(0,1,1008.3,931);
  axisY(g,51.7,923.3,1016,y,[0,.25,.5,.75,1],['0.0','','0.5','','1.0'],13.5,46,C.lg,2,'s');
  axisX(g,1016,51.7,158.3,x,[0,500,1000,1500],['0','','',''],13,1033.3,C.lg,2,'s',[-1.5]);
  tx(g,145,1033.3,'1500',13,C.k,'middle',0,'s-x-tick-label-1500');
  curve(g,sLength,sCtrl,x,y,'#333',.8,1.2,'s-ctrl-curve');
  curve(g,sLength,sBp2,x,y,C.r,.8,1.2,'s-bp2-curve');
  const yi = scale(0,500,1008.3,956.7);
  bar(g,132.7,20,sInset[0],sInsetErr[0],yi,C.k,'s-inset-ctrl-bar');
  bar(g,160,16.7,sInset[1],sInsetErr[1],yi,C.r,'s-inset-bp2-bar');
  axisY(g,128.3,956.7,1008.3,yi,[0,250,500],['0','250','500'],13,121.7,C.ax,5,'s-inset');
  ln(g,128.3,1008.3,181.7,1008.3,C.ax,1,'s-inset-x-axis');
  bracket(g,142.3,169,947.7,7.3,'s-inset-bracket');
  star(g,155.7,941.5,'*',14,'s-inset-star');
})();
// ---------- T ----------
(function(){
  const g = panel('panel-t-primary-neurites');
  const x = scale(0,10,297.3,346.6), y = scale(0,1,1010.7,932.3);
  axisY(g,285,925,1018.3,y,[0,.25,.5,.75,1],['','','','',''],12,280,C.lg,2,'t');
  axisX(g,1018.3,285,410.3,x,[0,10,20],['0','10','20'],13,1035,C.lg,2,'t',[0,-3,-5]);
  curve(g,tCount,tCtrl,x,y,'#333',.8,1.2,'t-ctrl-curve');
  curve(g,tCount,tBp2,x,y,C.r,.8,1.2,'t-bp2-curve');
  const yi = scale(0,12,1012.7,948.3);
  bar(g,398,17.3,tInset[0],tInsetErr[0],yi,C.k,'t-inset-ctrl-bar');
  bar(g,423.7,17.3,tInset[1],tInsetErr[1],yi,C.r,'t-inset-bp2-bar');
  axisY(g,394.7,948.3,1012.7,yi,[0,4,8,12],['0','4','8','12'],13,387,C.ax,5,'t-inset');
  ln(g,394.7,1012.7,446,1012.7,C.ax,1,'t-inset-x-axis');
  bracket(g,406.3,432,944.3,7.4,'t-inset-bracket');
  star(g,418.7,940,'*',14,'t-inset-star');
})();
// ---------- U ----------
(function(){
  const g = panel('panel-u-branch-points');
  const x = scale(0,40,582,652), y = scale(0,1,1010,932.3);
  axisY(g,572.7,924.3,1017.7,y,[0,.25,.5,.75,1],['','','','',''],12,568,C.lg,2,'u');
  axisX(g,1017.7,572.7,678.7,x,[0,20,40],['0','20','40'],13,1033.3,C.lg,2,'u',[3.3,2.3,.7]);
  curve(g,uCount,uCtrl,x,y,'#333',.8,1.2,'u-ctrl-curve');
  curve(g,uCount,uBp2,x,y,C.r,.8,1.2,'u-bp2-curve');
  const yi = scale(0,24,1009.3,957.7);
  bar(g,675.3,16.7,uInset[0],uInsetErr[0],yi,C.k,'u-inset-ctrl-bar');
  bar(g,701,16.7,uInset[1],uInsetErr[1],yi,C.r,'u-inset-bp2-bar');
  axisY(g,671.3,957.7,1009.3,yi,[0,12,24],['0','12','24'],13,662.7,C.ax,5,'u-inset');
  ln(g,671.3,1009.3,723,1009.3,C.ax,1,'u-inset-x-axis');
  bracket(g,682.7,710.3,949.3,7.4,'u-inset-bracket');
  star(g,696,943,'*',14,'u-inset-star');
})();
</script>
</body>
</html>
